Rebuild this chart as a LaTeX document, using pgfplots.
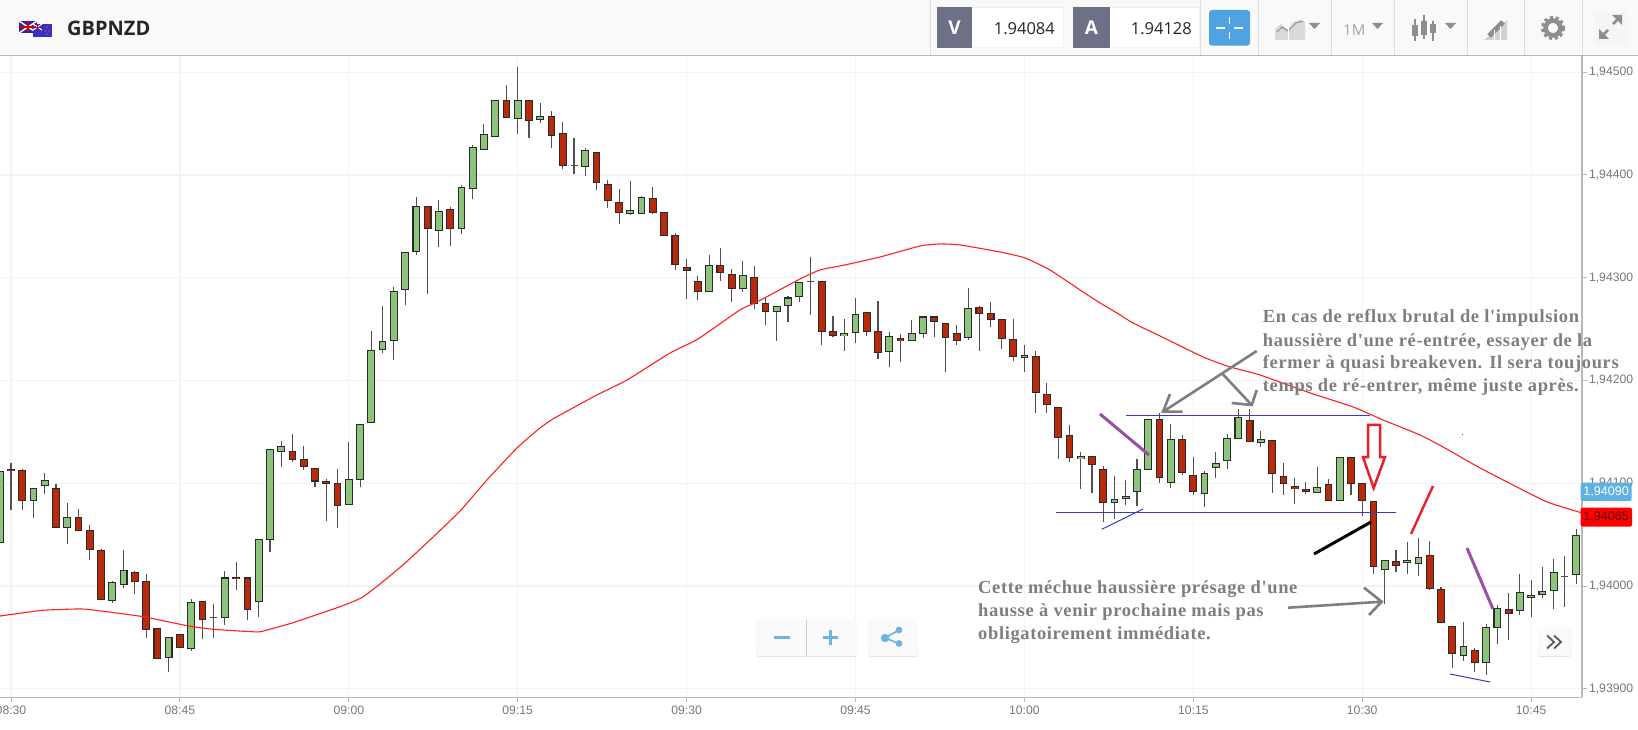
\documentclass[border=0pt]{standalone}
\usepackage{fontspec}
\usepackage{pgfplots}
\usepackage{pgfplotstable}
\pgfplotsset{compat=1.18}
\setmainfont{Liberation Sans}
\newfontfamily\annotfont[LetterSpace=3.4]{Liberation Serif}
\newfontfamily\uifont{Open Sans}
\definecolor{upc}{HTML}{8BC47A}
\definecolor{downc}{HTML}{B82A0A}
\definecolor{edge}{HTML}{2A2A2A}
\definecolor{wick}{HTML}{505050}
\definecolor{gridc}{HTML}{F3F3F3}
\definecolor{axisc}{HTML}{B8B8B8}
\definecolor{tickt}{HTML}{777777}
\definecolor{annot}{HTML}{7E7E7E}
\definecolor{ablue}{HTML}{3A3AC8}
\definecolor{apurple}{HTML}{9B4EA6}
\definecolor{ared}{HTML}{E8202A}
\definecolor{ma}{HTML}{FF2020}
\definecolor{barbg}{HTML}{F9F9F9}
\definecolor{uig}{HTML}{8E8E8E}
\definecolor{uib}{HTML}{6CB4DE}
\definecolor{vbox}{HTML}{6E7186}
\definecolor{crossb}{HTML}{4FA3E0}
\definecolor{tagb}{HTML}{5EB1E0}
\definecolor{tagr}{HTML}{FF0000}
\definecolor{btn}{HTML}{FAFAFA}
% values are in points above 1.94000 (1 = 0.00001); i = minutes after 08:30
\pgfplotstableread{
i o c l h
-1 42 112 42 118
2 83.4 95.5 66 95.5
3 97.7 103 90 110
5 57 67 41 81
9 -14 3.6 -17 5
10 1.3 15.6 -2.3 35
14 -70 -50 -84 -50
16 -61.4 -16 -63.6 -13
19 -30.5 8 -38 15
22 -15 45 -30.5 45
23 45 132.8 33 132.8
24 131 136.4 116 141
30 79 103.6 79 140.6
31 103 157.5 96.8 157.5
32 159 229 159 248.5
33 230 238 227 272.7
34 238.6 287 220 290.6
35 288 324.7 273 324.7
36 325 369.5 322 379
38 346 365 330 375.6
40 347.4 388.3 343 390
41 387 426.6 377 429
42 424.4 439.6 424.4 450
43 437.7 472.4 437.7 472.4
45 455 472.4 440 505
47 454.2 457.5 451 470.5
51 407.8 424.4 399 426
55 362.7 365.3 361 394.5
56 362.7 378.6 362.7 379.5
62 286 312.3 286 321.8
65 289.3 302 286 316.6
68 267.2 272 238.6 272
69 272.7 280.5 257 282
70 281.5 296 276 296
74 243.3 245.9 229 259.5
75 246.5 264.4 236.8 280.6
78 228 243.3 212.8 246.8
80 238.7 245.5 238.7 258.5
81 245.5 262 241 262
85 242 269.9 239 289.7
90 222.5 224.8 208.5 234.5
95 123.5 126 94 130
98 81 84.5 65.7 107
99 85 87.7 78.7 103
100 92 113.7 77.7 123.5
101 112.8 162 112.8 162
103 100.7 142.6 95 157.5
106 89.8 109.6 77 112
107 114.8 119.7 105.4 130.4
108 122 143.4 113.9 147.6
109 143.7 164.5 143.7 172
111 139.2 142.8 135 150.9
116 90.8 95.7 90.8 115.8
118 83.3 125.2 83.3 125.2
122 16 24.6 -17.6 25.5
124 22.9 25.2 11.3 42.4
125 21.7 27.5 10 47
129 -68 -59 -73.1 -35.5
131 -74.4 -40.4 -86.5 -36.5
132 -40.7 -21.8 -56.3 -18
134 -24.1 -6.3 -28.3 11.6
135 -11.1 -8.9 -30.6 5.4
136 -8 -5.3 -12 18.4
137 -4.6 13.2 -22 26.2
139 11.3 49.3 2 55.4
}\upcandles
\pgfplotstableread{
i o c l h
0 114 112 73.7 119.5
1 113 83.4 73.7 114
4 95.5 57 57 99.7
6 67 53.6 53.6 74.7
7 54 35 25.3 59.4
8 34.4 -13 -13 35.7
11 13.3 4.5 -7.5 15
12 4.9 -42.5 -51 12
13 -41.6 -71 -71 -41.6
15 -47 -60 -60 -47
17 -15 -32.5 -52 -15
20 8.8 6.8 -4 23
21 8 -22.7 -33 8
25 131 122.7 121 148
26 123 116 113 136
27 115 102 96.8 115
28 102 99.7 63.6 104
29 100 78 56 114
37 369.8 347.4 283.8 369.8
39 366.2 347.4 331 369
44 472.4 456 456 487.7
46 472.4 453 436.4 472.4
48 457 438.6 426.6 462
49 440.6 409 405.8 451.3
52 422 392.9 385 422
53 391 375 367.5 395.5
54 373.7 363 352 386.7
57 377.3 363.6 362 388
58 363.6 341.2 341.2 363.6
59 341.2 312.3 308 343.8
60 310 307 279.5 318
61 297 286 278.6 302
63 312.3 305 297 329
64 303.6 289 276 308.8
66 300.3 274.7 269.8 311
67 275 267.2 254 280
72 296.2 247.8 234.8 296.2
73 247.8 243.3 242.6 263
76 266.3 247.8 243 266.3
77 247.8 227.4 221 277.4
79 241 238.7 218.3 245.2
82 262 257.6 242.3 262
83 255.6 242 208.5 255.6
84 245.5 239 234.8 254.3
86 270.9 265.4 229 272.8
87 265.4 259.5 252.4 276
88 259.8 241 230.3 259.8
89 240 223.5 219 259.5
91 223.5 188.4 168.6 229
92 186.5 176.4 168.6 198
93 173.5 144.6 123.8 173.5
94 146.8 124.8 120.5 156.6
96 126 118.3 90.7 126
97 113.7 81.3 62.4 116.6
102 162 105.3 100.7 168
104 142.6 110.5 108.5 146.8
105 107.6 92 88.7 125.7
110 161 140.5 140.5 172
112 141.5 109.6 91 141.5
113 106.4 99.9 88.5 119.4
114 96.7 94.4 80 104.8
115 94 92 89.2 101.5
117 98.6 83.3 83.3 104
119 125.2 99.9 88.5 125.2
120 99.6 83.3 68.4 99.6
121 82.4 18.7 11.9 83
123 23.9 19.7 14 35
126 29.8 -2.4 -4 43.7
127 -3.3 -35.5 -35.5 -0.7
128 -39.4 -65.4 -80 -39.4
130 -62.8 -74.4 -83.5 -60.8
133 -22.2 -26.7 -52.7 -7.2
}\downcandles
\pgfplotstableread{
i o c l h
18 -30.5 -30.5 -51 -17.5
50 409 409 401.3 435.7
71 296 296 264 320
138 9.6 9.6 -20 29.5
}\dojis
\pgfplotstableread{
x y
-0.98 -29.2
2.84 -23.6
6.13 -22.3
7.28 -23.3
11.72 -29.8
15.63 -38.6
17.94 -42.1
21.85 -44.7
22.74 -42.8
25.04 -35.7
29.22 -20.1
31.15 -11.3
32.77 2.0
34.81 20.5
37.21 44.8
39.88 73.0
42.27 103.2
44.94 134.4
46.98 153.8
48.13 162.6
49.91 173.3
52.04 186.0
54.71 200.5
58.53 226.8
61.01 240.4
64.74 268.7
66.25 276.4
70.07 298.8
71.85 307.6
74.07 312.5
77.18 320.2
80.73 330.9
82.50 332.9
84.28 331.9
87.83 325.1
90.05 319.3
92.27 307.6
94.94 288.1
96.71 275.5
98.22 265.7
99.64 256.0
102.22 242.4
105.86 222.9
108.26 213.2
110.92 205.4
115.10 188.9
119.18 174.3
121.85 161.6
125.13 147.0
127.18 135.3
130.46 114.9
133.39 98.3
136.41 81.8
139.52 71.1
}\mavg
\pgfplotsset{
  wicks/.style={draw=none,forget plot,mark=none,error bars/.cd,y dir=both,y explicit,error mark=none,
    error bar style={line width=1.1pt,draw=wick}},
  edges/.style={draw=none,forget plot,mark=none,error bars/.cd,y dir=both,y explicit,error mark=none,
    error bar style={line width=7.8pt,draw=edge}},
  upfill/.style={draw=none,forget plot,mark=none,error bars/.cd,y dir=both,y explicit,error mark=none,
    error bar style={line width=5.7pt,draw=upc}},
  downfill/.style={draw=none,forget plot,mark=none,error bars/.cd,y dir=both,y explicit,error mark=none,
    error bar style={line width=5.7pt,draw=downc}},
}
\newcommand{\wickplot}[1]{\addplot[wicks] table[x=i,y expr={(\thisrow{h}+\thisrow{l})/2},y error expr={(\thisrow{h}-\thisrow{l})/2}]{#1};}
\newcommand{\edgeplot}[1]{\addplot[edges] table[x=i,y expr={(\thisrow{o}+\thisrow{c})/2},y error expr={abs(\thisrow{o}-\thisrow{c})/2+0.3}]{#1};}
\begin{document}
\begin{tikzpicture}
\useasboundingbox (0pt,0pt) rectangle (1638pt,729pt);
\fill[white] (0pt,0pt) rectangle (1638pt,729pt);
\begin{axis}[
  at={(0pt,31.7pt)},anchor=south west,scale only axis,width=1582pt,height=641.8pt,
  xmin=-0.977,xmax=139.52,ymin=-108.3,ymax=516.3,
  axis x line=bottom,axis y line=right,axis line style={-,draw=axisc,line width=1.4pt},
  xtick={0,15,30,45,60,75,90,105,120,135},
  xticklabels={08:30,08:45,09:00,09:15,09:30,09:45,10:00,10:15,10:30,10:45},
  ytick={-100,0,100,200,300,400,500},
  yticklabels={{1,93900},{1,94000},{1,94100},{1,94200},{1,94300},{1,94400},{1,94500}},
  tick align=outside,major tick length=4.5pt,tick style={draw=axisc,line width=1pt},
  grid=major,major grid style={draw=gridc,line width=1.2pt},
  x tick label style={font=\fontsize{12.2}{14}\selectfont,text=tickt,yshift=-0.5pt},
  y tick label style={font=\fontsize{12.2}{14}\selectfont,text=tickt,xshift=-1pt},
]
\wickplot{\upcandles}
\wickplot{\downcandles}
\wickplot{\dojis}
\edgeplot{\upcandles}
\edgeplot{\downcandles}
\addplot[upfill] table[x=i,y expr={(\thisrow{o}+\thisrow{c})/2},y error expr={max(abs(\thisrow{o}-\thisrow{c})/2-0.7,0)}]{\upcandles};
\addplot[downfill] table[x=i,y expr={(\thisrow{o}+\thisrow{c})/2},y error expr={max(abs(\thisrow{o}-\thisrow{c})/2-0.7,0)}]{\downcandles};
\addplot[only marks,forget plot,mark=-,mark size=3.5pt,mark options={draw=wick,line width=1pt}] table[x=i,y=o]{\dojis};
\addplot[ma,line width=1.1pt,forget plot,smooth,tension=0.3] table[x=x,y=y]{\mavg};
\end{axis}
\begin{scope}[shift={(0pt,729pt)},x=1pt,y=-1pt]
% top bar
\fill[barbg] (0,0) rectangle (1638,55);
\draw[axisc,line width=1.2pt] (0,55.3) -- (1638,55.3);
\foreach \xx in {930,1200,1258,1331,1394,1467,1524,1582}
  \draw[gray!25,line width=0.8pt] (\xx,0) -- (\xx,55);
% flags
\fill[blue!55!black!85] (19,21) rectangle (37,33);
\draw[white,line width=1.5pt] (19,21) -- (37,33) (19,33) -- (37,21);
\draw[white,line width=2.4pt] (28,21) -- (28,33) (19,27) -- (37,27);
\draw[red!85!black,line width=1.2pt] (28,21) -- (28,33) (19,27) -- (37,27);
\fill[blue!70!black!80] (33,24) rectangle (52,37);
\draw[white,line width=1pt] (33,24) -- (42,30) (33,30) -- (42,24);
\draw[red!80!black,line width=.8pt] (37.5,24) -- (37.5,30) (33,27) -- (42,27);
\foreach \pp in {(47,27),(45,31),(49,31),(47,34)} \fill[red!80!white] \pp circle (0.8);
\node[anchor=base west,inner sep=0,text=black!85] at (67,35.5) {\uifont\bfseries\fontsize{20}{22}\selectfont GBPNZD};
% price boxes
\fill[gray!10] (937,7.3) rectangle (1064,47.7);
\fill[white] (972,8.3) rectangle (1063,46.7);
\fill[vbox] (937,7.3) rectangle (972,47.7);
\node[text=white,inner sep=0] at (954.5,28) {\uifont\bfseries\fontsize{19}{22}\selectfont V};
\node[anchor=base east,inner sep=0,text=black!85] at (1055,34.5) {\uifont\fontsize{16.5}{18}\selectfont 1.94084};
\fill[gray!10] (1073,7.3) rectangle (1200,47.7);
\fill[white] (1110,8.3) rectangle (1199,46.7);
\fill[vbox] (1073,7.3) rectangle (1110,47.7);
\node[text=white,inner sep=0] at (1091.5,28) {\uifont\bfseries\fontsize{19}{22}\selectfont A};
\node[anchor=base east,inner sep=0,text=black!85] at (1192,34.5) {\uifont\fontsize{16.5}{18}\selectfont 1.94128};
\fill[crossb,rounded corners=3pt] (1209,10) rectangle (1250,45.7);
\draw[white,line width=1.4pt] (1229.5,17) -- (1229.5,24) (1229.5,32) -- (1229.5,39) (1216,28) -- (1225,28) (1234,28) -- (1243,28);
% tool icons
\fill[gray!30] (1275,40) -- (1275,29) -- (1281,24) -- (1287,30) -- (1293,22) -- (1300,20) -- (1305,22) -- (1305,40) -- cycle;
\draw[uig,line width=1pt] (1277,32) -- (1282,27) -- (1288,31) -- (1296,23) -- (1303,21);
\draw[white,line width=1pt] (1288,20) -- (1288,40);
\fill[uig] (1309,23) -- (1320,23) -- (1314.5,29) -- cycle;
\node[anchor=base west,inner sep=0,text=uig!80] at (1343,36) {\uifont\fontsize{15}{18}\selectfont 1M};
\fill[uig] (1372,23) -- (1383,23) -- (1377.5,29) -- cycle;
\foreach \xx/\ya/\yb/\yc/\yd in {1415/19/25/36/41,1424/15/21/35/39,1433/21/24/33/41}{
  \draw[uig,line width=1.5pt] (\xx,\ya) -- (\xx,\yd);
  \fill[uig] (\xx-3.3,\yb) rectangle (\xx+3.3,\yc);}
\fill[uig] (1445,23) -- (1456,23) -- (1450.5,29) -- cycle;
\fill[gray!35] (1484,40) -- (1507,20) -- (1507,40) -- cycle;
\draw[uig,line width=5pt] (1489,36) -- (1503,22);
\draw[white,line width=.8pt] (1494,40) -- (1494,30) (1500,40) -- (1500,26);
\draw[uig,line width=3pt,dash pattern=on 3.2pt off 2.6pt] (1553,28) circle (10.6);
\draw[uig,line width=4.6pt] (1553,28) circle (7.4);
\fill[gray!8] (1594,12) rectangle (1627,45);
\draw[uig,line width=2.6pt] (1602,36) -- (1608,30) (1613,24) -- (1619,18);
\fill[uig] (1599,39) -- (1599,29) -- (1609,39) -- cycle;
\fill[uig] (1622,15) -- (1622,25) -- (1612,15) -- cycle;
% annotations
\draw[ablue,line width=1pt] (1126,415.3) -- (1370,415.3);
\draw[ablue,line width=1pt] (1056,512.3) -- (1396,512.3);
\draw[ablue,line width=1pt] (1101.7,529.3) -- (1143,509);
\draw[ablue,line width=1pt] (1450,674) -- (1490,682);
\fill[ablue] (1461.5,434.5) rectangle (1462.5,435.5);
\draw[apurple,line width=3pt] (1100,414) -- (1149,455);
\draw[apurple,line width=3pt] (1467,548) -- (1493,609);
\draw[black,line width=3pt] (1314,554) -- (1371,522);
\draw[ared,line width=2.4pt] (1411,534) -- (1433,486);
\draw[ared,line width=2.5pt,miter limit=4] (1368,457) -- (1368,425) -- (1380,425) -- (1380,457) -- (1385,457) -- (1373.7,488) -- (1363,457) -- cycle;
\draw[annot,line width=2.6pt] (1256.7,351) -- (1163,411.7) (1170,394) -- (1163,411.7) -- (1182.7,411.7);
\draw[annot,line width=2.6pt] (1221.7,373) -- (1251.7,405) (1256.7,390) -- (1251.7,405) -- (1231.7,403);
\draw[annot,line width=2.6pt] (1288,607.7) -- (1381.7,601.7) (1364,587.7) -- (1381.7,601.7) -- (1369,615);
\begin{scope}[every node/.style={anchor=base west,inner sep=0,text=annot,font=\annotfont\bfseries\fontsize{18.5}{22}\selectfont}]
\node at (1262.7,323) {En cas de reflux brutal de l'impulsion};
\node at (1262.7,346.7) {haussière d'une ré-entrée, essayer de la};
\node at (1262.7,369) {fermer à quasi breakeven. Il sera toujours};
\node at (1262.7,391.7) {temps de ré-entrer, même juste après.};
\node at (978,593.3) {Cette méchue haussière présage d'une};
\node at (978,616.7) {hausse à venir prochaine mais pas};
\node at (978,639.3) {obligatoirement immédiate.};
\end{scope}
% price tags
\fill[tagb,rounded corners=2pt] (1580.7,482.7) rectangle (1631.7,501);
\node[text=white,inner sep=0] at (1606.2,492) {\fontsize{12.6}{14}\selectfont 1,94090};
\fill[tagr,rounded corners=2pt] (1580.7,507.7) rectangle (1632,526.7);
\node[text=black!65!red,inner sep=0] at (1606.2,517.3) {\fontsize{12.6}{14}\selectfont 1,94065};
% chart buttons
\fill[gray!22,rounded corners=3pt] (756,621) rectangle (857,657);
\fill[btn,rounded corners=3pt] (756,620) rectangle (857,656);
\draw[gray!40,line width=.7pt] (806,620) -- (806,656);
\draw[uib,line width=3pt] (774,637.5) -- (790,637.5) (823,637.5) -- (838,637.5) (830.5,630) -- (830.5,645);
\fill[gray!22,rounded corners=3pt] (868,621) rectangle (918,657);
\fill[btn,rounded corners=3pt] (868,620) rectangle (918,656);
\draw[uib,line width=1.6pt] (899,630) -- (885,638) -- (899,643.5);
\fill[uib] (899,630) circle (3.4) (885,638) circle (4.2) (899,643.5) circle (3.4);
\fill[gray!22,rounded corners=3pt] (1537,629) rectangle (1571,657);
\fill[btn,rounded corners=3pt] (1537,628) rectangle (1571,656);
\draw[black!65,line width=1.8pt] (1547,635.5) -- (1554,642) -- (1547,648.5) (1554,635.5) -- (1561,642) -- (1554,648.5);
\end{scope}
\end{tikzpicture}
\end{document}
